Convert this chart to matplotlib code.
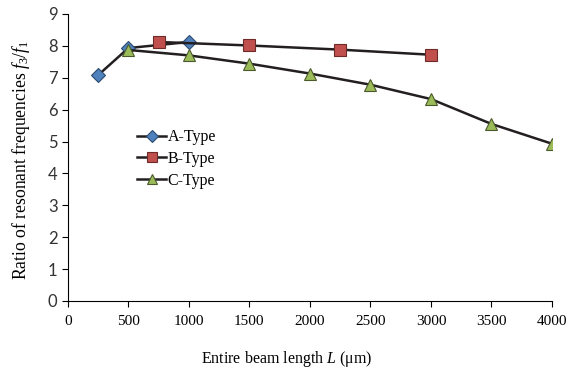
import matplotlib
matplotlib.use("Agg")
import matplotlib.pyplot as plt

plt.rcParams["mathtext.fontset"] = "custom"
plt.rcParams["mathtext.rm"] = "Liberation Serif"
plt.rcParams["mathtext.it"] = "Liberation Serif:italic"

a_x = [250, 500, 1000]
a_y = [7.08, 7.93, 8.12]
b_x = [750, 1500, 2250, 3000]
b_y = [8.12, 8.01, 7.88, 7.72]
c_x = [500, 1000, 1500, 2000, 2500, 3000, 3500, 4000]
c_y = [7.87, 7.70, 7.44, 7.13, 6.78, 6.33, 5.55, 4.93]
x_ticks = [0, 500, 1000, 1500, 2000, 2500, 3000, 3500, 4000]
y_ticks = list(range(0, 10))

fig = plt.figure(figsize=(5.75, 3.76), dpi=100)
ax = fig.add_axes([0.118, 0.1995, 0.842, 0.7635])

ax.plot(a_x, a_y, color="#231f20", lw=1.8, marker="D", ms=7.5,
        mfc="#4F81BD", mec="#2c4a6e", mew=0.8, label="A-Type", zorder=3)
ax.plot(b_x, b_y, color="#231f20", lw=1.8, marker="s", ms=9,
        mfc="#C0504D", mec="#6e2a28", mew=0.8, label="B-Type", zorder=3)
ax.plot(c_x, c_y, color="#231f20", lw=1.8, marker="^", ms=9,
        mfc="#9BBB59", mec="#4a5a2a", mew=0.8, label="C-Type", zorder=3)

ax.set_xlim(0, 4000)
ax.set_ylim(0, 9)
ax.set_xticks(x_ticks)
ax.set_yticks(y_ticks)
ax.spines["top"].set_visible(False)
ax.spines["right"].set_visible(False)
for s in ["left", "bottom"]:
    ax.spines[s].set_linewidth(0.8)
ax.tick_params(direction="out", length=4, width=0.8)
for lab in ax.get_xticklabels():
    lab.set_fontfamily("Liberation Serif")
    lab.set_fontsize(11)
for lab in ax.get_yticklabels():
    lab.set_fontfamily("Lato")
    lab.set_fontsize(12)
    lab.set_color("#333333")
ax.tick_params(axis="x", pad=6)

ax.set_xlabel("Entire beam length $\\mathit{L}$ (\u03bcm)", fontfamily="Liberation Serif",
              fontsize=11.5)
ax.xaxis.set_label_coords(0.452, -0.167)
ax.set_ylabel("Ratio of resonant frequencies $\\mathit{f}_3/\\mathit{f}_1$",
              fontfamily="Liberation Serif", fontsize=12.7)
ax.yaxis.set_label_coords(-0.074, 0.49)

leg = ax.legend(loc="upper left", bbox_to_anchor=(0.13, 0.62), frameon=False,
                prop={"family": "Liberation Serif", "size": 11.5},
                handlelength=1.8, handletextpad=0.1, labelspacing=0.35, borderaxespad=0)
for h in leg.legend_handles:
    h.set_markersize(6.5)

fig.savefig("out.png", dpi=100)
